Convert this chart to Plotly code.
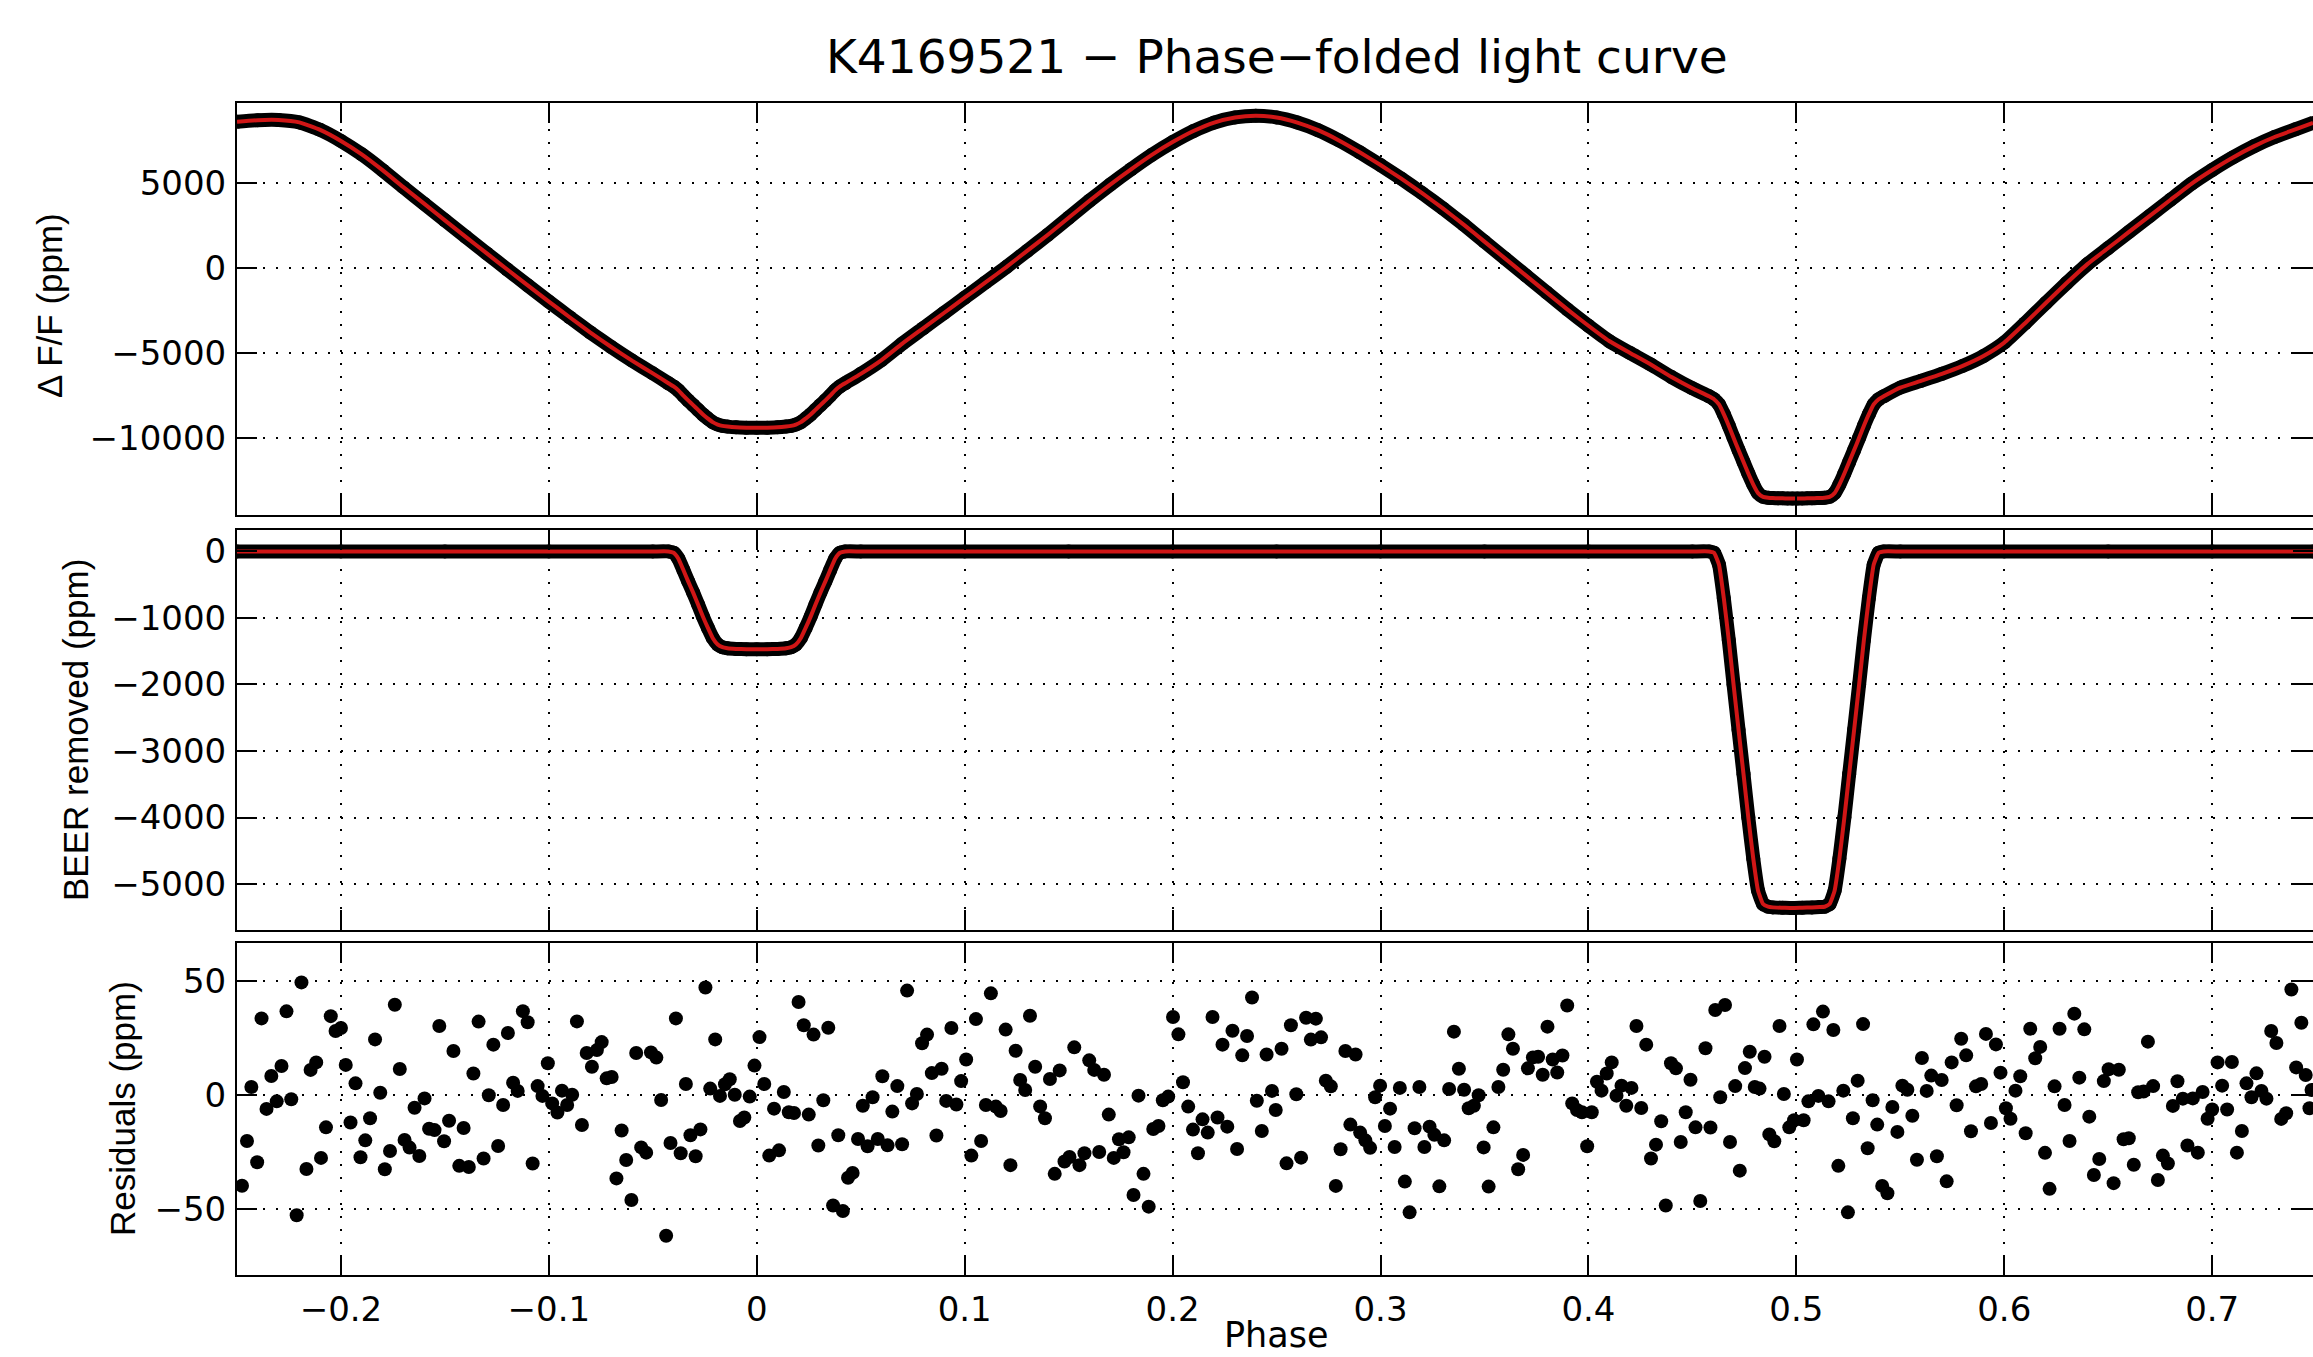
import plotly.graph_objects as go

# ---------------- data ----------------
# Top panel: phase-folded light curve (model, ppm)
top_phase = [-0.25, -0.24, -0.23, -0.22, -0.21, -0.20, -0.19, -0.18, -0.17, -0.16,
             -0.15, -0.14, -0.13, -0.12, -0.11, -0.10, -0.09, -0.08, -0.07, -0.06,
             -0.05, -0.0425, -0.0400, -0.0377, -0.0353, -0.0330, -0.0306, -0.0282,
             -0.0259, -0.0235, -0.0212, -0.0188, -0.0165, -0.0141, -0.0100, -0.0050,
             0.0000, 0.0050, 0.0100, 0.0141, 0.0165, 0.0188, 0.0212, 0.0235, 0.0259,
             0.0282, 0.0306, 0.0330, 0.0353, 0.0377, 0.0400, 0.0425,
             0.05, 0.06, 0.07, 0.08, 0.09, 0.10, 0.11, 0.12, 0.13, 0.14, 0.15, 0.16,
             0.17, 0.18, 0.19, 0.20, 0.21, 0.22, 0.23, 0.24, 0.25, 0.26, 0.27, 0.28,
             0.29, 0.30, 0.31, 0.32, 0.33, 0.34, 0.35, 0.36, 0.37, 0.38, 0.39, 0.40,
             0.41, 0.42, 0.43, 0.44, 0.45, 0.4580, 0.4604, 0.4628, 0.4651, 0.4675,
             0.4698, 0.4722, 0.4746, 0.4769, 0.4793, 0.4816, 0.4840, 0.4864, 0.4887,
             0.4911, 0.4934, 0.4958, 0.4981, 0.5005, 0.5028, 0.5052, 0.5075, 0.5099,
             0.5136, 0.5160, 0.5184, 0.5207, 0.5231, 0.5254, 0.5278, 0.5302, 0.5325,
             0.5349, 0.5372, 0.5396, 0.5420,
             0.55, 0.56, 0.57, 0.58, 0.59, 0.60, 0.61, 0.62, 0.63, 0.64, 0.65, 0.66,
             0.67, 0.68, 0.69, 0.70, 0.71, 0.72, 0.73, 0.74, 0.7485]
top_flux = [8600, 8690, 8700, 8560, 8120, 7470, 6680, 5750, 4750, 3780,
            2800, 1830, 870, -90, -1040, -1980, -2900, -3800, -4650, -5450,
            -6200, -6780, -6970, -7200, -7510, -7790, -8070, -8350,
            -8620, -8860, -9070, -9210, -9290, -9330, -9375, -9395,
            -9400, -9395, -9375, -9330, -9290, -9210, -9070, -8860, -8620,
            -8350, -8070, -7790, -7510, -7200, -6970, -6780,
            -6230, -5420, -4450, -3550, -2650, -1750, -850, 50, 1000, 1950, 2950, 3950,
            4900, 5800, 6650, 7400, 8050, 8550, 8850, 8950, 8850, 8550, 8100, 7500,
            6800, 6050, 5250, 4400, 3500, 2550, 1550, 550, -450, -1450, -2450, -3400,
            -4300, -5000, -5680, -6420, -7080, -7550, -7720, -8030, -8600, -9280,
            -9990, -10710, -11410, -12090, -12740, -13240, -13460, -13515, -13535,
            -13545, -13550, -13555, -13560, -13560, -13555, -13550, -13545, -13535,
            -13515, -13460, -13240, -12740, -12090, -11410, -10710, -9990, -9280,
            -8600, -8030, -7720, -7550,
            -7040, -6640, -6230, -5760, -5180, -4390, -3250, -2060, -890, 225, 1170, 2120,
            3060, 4010, 4950, 5760, 6500, 7150, 7700, 8150, 8530]

# Middle panel: BEER removed (ppm)
beer_phase = [-0.25, -0.20, -0.15, -0.10, -0.05, -0.0425, -0.0400, -0.0377, -0.0353,
              -0.0330, -0.0306, -0.0282, -0.0259, -0.0235, -0.0212, -0.0188, -0.0165,
              -0.0141, -0.0100, -0.0050, 0.0000, 0.0050, 0.0100, 0.0141, 0.0165,
              0.0188, 0.0212, 0.0235, 0.0259, 0.0282, 0.0306, 0.0330, 0.0353, 0.0377,
              0.0400, 0.0425, 0.05, 0.10, 0.15, 0.20, 0.25, 0.30, 0.35, 0.40, 0.45,
              0.4580, 0.4604, 0.4628, 0.4651, 0.4675, 0.4698, 0.4722, 0.4746, 0.4769,
              0.4793, 0.4816, 0.4840, 0.4864, 0.4887, 0.4934, 0.4981, 0.5028, 0.5075,
              0.5113, 0.5136, 0.5160, 0.5184, 0.5207, 0.5231, 0.5254, 0.5278, 0.5302,
              0.5325, 0.5349, 0.5372, 0.5396, 0.5420, 0.55, 0.60, 0.65, 0.70, 0.7485]
beer_flux = [0, 0, 0, 0, 0, 0, -20, -110, -280,
             -450, -620, -800, -980, -1150, -1300, -1400, -1440,
             -1455, -1465, -1470, -1470, -1470, -1465, -1455, -1440,
             -1400, -1300, -1150, -980, -800, -620, -450, -280, -110,
             -20, 0, 0, 0, 0, 0, 0, 0, 0, 0, 0,
             0, -20, -200, -700, -1330, -2000, -2680, -3350, -4000,
             -4620, -5100, -5300, -5340, -5350, -5355, -5360, -5355, -5350,
             -5345, -5340, -5300, -5100, -4620, -4000, -3350, -2680, -2000,
             -1330, -700, -200, -20, 0, 0, 0, 0, 0, 0]

# Bottom panel: residuals (ppm)
res_phase = [
    -0.2476, -0.2452, -0.2431, -0.2403, -0.2382, -0.2358, -0.2335, -0.2309, -0.2286, -0.2262,
    -0.2239, -0.2213, -0.2190, -0.2166, -0.2146, -0.2119, -0.2096, -0.2072, -0.2049, -0.2026,
    -0.2000, -0.1977, -0.1954, -0.1930, -0.1906, -0.1883, -0.1860, -0.1836, -0.1811, -0.1789,
    -0.1764, -0.1741, -0.1717, -0.1694, -0.1670, -0.1646, -0.1623, -0.1598, -0.1576, -0.1550,
    -0.1527, -0.1504, -0.1480, -0.1459, -0.1431, -0.1410, -0.1385, -0.1363, -0.1338, -0.1314,
    -0.1289, -0.1267, -0.1244, -0.1220, -0.1197, -0.1172, -0.1150, -0.1125, -0.1102, -0.1078,
    -0.1054, -0.1031, -0.1005, -0.0984, -0.0959, -0.0937, -0.0912, -0.0888, -0.0865, -0.0841,
    -0.0818, -0.0793, -0.0769, -0.0746, -0.0722, -0.0698, -0.0675, -0.0650, -0.0628, -0.0603,
    -0.0580, -0.0556, -0.0532, -0.0509, -0.0483, -0.0460, -0.0436, -0.0415, -0.0389, -0.0366,
    -0.0341, -0.0319, -0.0294, -0.0271, -0.0247, -0.0224, -0.0200, -0.0177, -0.0153, -0.0130,
    -0.0106, -0.0081, -0.0060, -0.0034, -0.0011,
    0.0013, 0.0036, 0.0060, 0.0083, 0.0107, 0.0130, 0.0154, 0.0179, 0.0201, 0.0226,
    0.0250, 0.0273, 0.0296, 0.0320, 0.0344, 0.0367, 0.0392, 0.0414, 0.0439, 0.0461,
    0.0487, 0.0510, 0.0533, 0.0557, 0.0582, 0.0604, 0.0629, 0.0652, 0.0676, 0.0699,
    0.0723, 0.0747, 0.0770, 0.0795, 0.0819, 0.0842, 0.0864, 0.0889, 0.0911, 0.0936,
    0.0960, 0.0983, 0.1007, 0.1032, 0.1054, 0.1079, 0.1102, 0.1126, 0.1150, 0.1173,
    0.1197, 0.1220, 0.1245, 0.1267, 0.1291, 0.1314, 0.1339, 0.1363, 0.1386, 0.1410,
    0.1433, 0.1457, 0.1480, 0.1504, 0.1527, 0.1552, 0.1576, 0.1599, 0.1623, 0.1647,
    0.1670, 0.1693, 0.1717, 0.1742, 0.1764, 0.1789, 0.1812, 0.1836, 0.1860, 0.1885,
    0.1907, 0.1932, 0.1953, 0.1979, 0.2002, 0.2028, 0.2050, 0.2075, 0.2098, 0.2122,
    0.2144, 0.2169, 0.2192, 0.2216, 0.2240, 0.2263, 0.2288, 0.2310, 0.2335, 0.2358,
    0.2382, 0.2405, 0.2429, 0.2452, 0.2478, 0.2496,
    0.2524, 0.2548, 0.2569, 0.2595, 0.2618, 0.2642, 0.2665, 0.2689, 0.2714, 0.2737,
    0.2761, 0.2785, 0.2808, 0.2831, 0.2855, 0.2880, 0.2902, 0.2927, 0.2950, 0.2974,
    0.2998, 0.3021, 0.3046, 0.3068, 0.3093, 0.3117, 0.3140, 0.3164, 0.3187, 0.3211,
    0.3236, 0.3259, 0.3283, 0.3306, 0.3330, 0.3353, 0.3377, 0.3402, 0.3424, 0.3449,
    0.3472, 0.3496, 0.3520, 0.3543, 0.3567, 0.3590, 0.3615, 0.3637, 0.3662, 0.3686,
    0.3709, 0.3733, 0.3758, 0.3780, 0.3803, 0.3828, 0.3850, 0.3875, 0.3898, 0.3922,
    0.3945, 0.3969, 0.3994, 0.4016, 0.4041, 0.4063, 0.4088, 0.4112, 0.4135, 0.4159,
    0.4182, 0.4207, 0.4231, 0.4254, 0.4278, 0.4301, 0.4325, 0.4350, 0.4372, 0.4397,
    0.4421, 0.4444, 0.4468, 0.4491, 0.4515, 0.4538, 0.4563, 0.4587, 0.4610, 0.4634,
    0.4657, 0.4681, 0.4706, 0.4728, 0.4753, 0.4776, 0.4800, 0.4823, 0.4847, 0.4870,
    0.4894, 0.4919, 0.4940, 0.4966, 0.4989, 0.5003,
    0.5035, 0.5058, 0.5082, 0.5106, 0.5128, 0.5155, 0.5178, 0.5202, 0.5226, 0.5248,
    0.5272, 0.5295, 0.5321, 0.5343, 0.5367, 0.5389, 0.5413, 0.5438, 0.5462, 0.5486,
    0.5510, 0.5534, 0.5558, 0.5580, 0.5604, 0.5627, 0.5649, 0.5676, 0.5699, 0.5723,
    0.5747, 0.5771, 0.5793, 0.5817, 0.5840, 0.5864, 0.5889, 0.5912, 0.5936, 0.5960,
    0.5982, 0.6008, 0.6030, 0.6054, 0.6077, 0.6103, 0.6125, 0.6149, 0.6173, 0.6196,
    0.6218, 0.6242, 0.6266, 0.6290, 0.6314, 0.6337, 0.6361, 0.6385, 0.6409, 0.6431,
    0.6457, 0.6479, 0.6502, 0.6526, 0.6551, 0.6574, 0.6599, 0.6623, 0.6644, 0.6670,
    0.6691, 0.6716, 0.6739, 0.6763, 0.6787, 0.6811, 0.6833, 0.6859, 0.6881, 0.6907,
    0.6931, 0.6954, 0.6978, 0.7000, 0.7026, 0.7048, 0.7072, 0.7095, 0.7119, 0.7143,
    0.7165, 0.7189, 0.7213, 0.7237, 0.7261, 0.7284, 0.7309, 0.7332, 0.7356, 0.7381,
    0.7404, 0.7429, 0.7450, 0.7468, 0.7478]
res_ppm = [
    -39.8, -20.2, 3.5, -29.5, 33.6, -6.1, 8.3, -2.8, 12.7, 36.7,
    -1.9, -52.8, 49.4, -32.5, 11.0, 14.3, -27.6, -14.2, 34.6, 28.1,
    29.4, 13.2, -12.1, 5.1, -27.3, -19.9, -10.2, 24.4, 1.0, -32.6,
    -24.6, 39.6, 11.4, -19.7, -23.1, -5.6, -26.8, -1.5, -14.8, -15.4,
    30.3, -20.3, -11.3, 19.3, -31.1, -14.5, -31.6, 9.4, 32.2, -27.9,
    -0.1, 22.1, -22.4, -4.4, 27.2, 5.4, 1.8, 36.8, 31.9, -30.1,
    3.9, -0.4, 13.9, -3.7, -7.7, 1.9, -4.4, 0.1, 32.3, -13.2,
    18.4, 12.4, 19.7, 23.2, 7.3, 7.9, -36.6, -15.6, -28.5, -46.1,
    18.4, -23.0, -25.3, 18.7, 16.4, -2.2, -61.8, -21.1, 33.6, -25.6,
    4.8, -17.7, -26.9, -15.1, 47.2, 2.8, 24.4, -0.4, 4.7, 6.9,
    0.1, -11.4, -9.9, -0.7, 12.9,
    25.4, 4.8, -26.6, -6.0, -24.3, 1.3, -7.6, -7.9, 40.8, 30.6,
    -8.6, 26.5, -22.2, -2.3, 29.5, -48.5, -17.7, -50.9, -36.3, -34.2,
    -19.3, -4.7, -22.5, -1.0, -19.3, 8.2, -22.1, -7.3, 3.9, -21.6,
    45.8, -3.7, 0.4, 22.7, 26.5, 9.6, -17.8, 11.5, -2.6, 29.4,
    -4.2, 6.1, 15.6, -26.6, 33.3, -20.2, -4.4, 44.6, -5.1, -7.0,
    28.7, -30.8, 19.4, 6.6, 2.2, 34.8, 12.4, -5.0, -10.2, 7.0,
    -34.6, 10.8, -29.2, -27.2, 20.9, -30.8, -25.6, 15.2, 11.0, -25.0,
    8.9, -8.6, -27.6, -19.4, -25.1, -18.6, -43.9, -0.3, -34.6, -49.0,
    -14.9, -13.6, -2.3, -0.7, 34.2, 26.6, 5.6, -5.1, -15.2, -25.6,
    -10.7, -16.5, 34.2, -9.9, 22.1, -13.9, 28.2, -23.7, 17.4, 25.9,
    42.8, -2.5, -15.8, 17.8, 1.8, -6.6,
    20.3, -30.0, 30.6, 0.3, -27.5, 33.9, 24.3, 33.5, 25.3, 6.3,
    3.8, -39.9, -23.8, 19.3, -13.0, 17.8, -16.5, -19.9, -23.2, -1.0,
    4.1, -13.6, -6.0, -22.8, 3.1, -38.0, -51.5, -14.6, 3.5, -22.8,
    -13.9, -17.5, -40.1, -19.9, 2.6, 27.8, 11.5, 2.3, -5.8, -4.7,
    -0.1, -23.0, -40.2, -14.2, 3.5, 11.1, 26.6, 20.3, -32.6, -26.3,
    11.7, 16.5, 16.8, 8.9, 30.0, 15.6, 9.9, 17.3, 39.3, -3.7,
    -6.6, -7.6, -22.5, -7.6, 5.8, 1.9, 9.4, 14.3, -0.3, 4.1,
    -4.7, 3.1, 30.3, -5.7, 22.1, -27.9, -21.8, -11.5, -48.5, 13.9,
    11.7, -20.6, -7.6, 6.7, -14.2, -46.5, 20.5, -14.3, 37.3, -1.0,
    39.5, -20.6, 3.9, -33.2, 11.8, 19.0, 3.5, 2.8, 16.8, -17.3,
    -20.3, 30.3, 0.4, -14.2, -11.1, 15.6,
    -11.1, -2.8, 31.0, -0.4, 36.6, -2.8, 28.5, -31.1, 1.9, -51.5,
    -10.2, 6.3, 31.1, -23.4, -2.3, -13.0, -39.9, -43.1, -5.3, -16.2,
    4.1, 2.3, -9.1, -28.4, 16.2, 1.8, 8.5, -26.9, 6.6, -37.9,
    14.3, -4.5, 24.7, 17.4, -15.9, 3.8, 4.8, 26.8, -12.3, 22.2,
    9.8, -5.8, -10.4, 1.9, 8.2, -16.8, 29.1, 16.1, 21.1, -25.4,
    -41.2, 3.8, 29.1, -4.4, -20.2, 35.7, 7.6, 28.8, -9.5, -35.1,
    -28.1, 6.1, 11.3, -38.7, 11.1, -19.4, -19.0, -30.6, 1.2, 1.5,
    23.4, 3.9, -37.3, -26.6, -30.1, -4.8, 6.0, -1.6, -22.2, -1.5,
    -25.3, 1.3, -10.4, -6.4, 14.3, 4.1, -6.4, 14.5, -25.3, -15.8,
    5.1, -1.0, 9.5, 1.8, -1.6, 28.1, 22.8, -10.5, -8.0, 46.3,
    12.1, 31.7, 8.8, -5.8, 2.2]

x_tickvals = [-0.2, -0.1, 0, 0.1, 0.2, 0.3, 0.4, 0.5, 0.6, 0.7]
x_ticktext = ["\u22120.2", "\u22120.1", "0", "0.1", "0.2", "0.3", "0.4", "0.5", "0.6", "0.7"]
top_ytickvals = [-10000, -5000, 0, 5000]
top_yticktext = ["\u221210000", "\u22125000", "0", "5000"]
mid_ytickvals = [-5000, -4000, -3000, -2000, -1000, 0]
mid_yticktext = ["\u22125000", "\u22124000", "\u22123000", "\u22122000", "\u22121000", "0"]
bot_ytickvals = [-50, 0, 50]
bot_yticktext = ["\u221250", "0", "50"]

title_text = "K4169521 \u2212 Phase\u2212folded light curve"
xlabel = "Phase"
ylabels = ["\u0394 F/F (ppm)", "BEER removed (ppm)", "Residuals (ppm)"]

# ---------------- figure ----------------
W, H = 2313, 1357
L = 237
PW = W - L
RED = "rgb(208,22,22)"
TICKFONT = dict(family="DejaVu Sans", size=34, color="black")


def px_x(px):
    return (px - L) / PW


def px_y(py):
    return 1 - py / H


fig = go.Figure()

# top panel
fig.add_trace(go.Scatter(x=top_phase, y=top_flux, mode="lines+markers",
                         line=dict(color="black", width=14, shape="spline", smoothing=0.5),
                         marker=dict(color="black", size=14), xaxis="x", yaxis="y",
                         showlegend=False, hoverinfo="skip"))
fig.add_trace(go.Scatter(x=top_phase, y=top_flux, mode="lines",
                         line=dict(color=RED, width=4, shape="spline", smoothing=0.5),
                         xaxis="x", yaxis="y", showlegend=False, hoverinfo="skip"))
# middle panel
fig.add_trace(go.Scatter(x=beer_phase, y=beer_flux, mode="lines+markers",
                         line=dict(color="black", width=14, shape="spline", smoothing=0.4),
                         marker=dict(color="black", size=14), xaxis="x2", yaxis="y2",
                         showlegend=False, hoverinfo="skip"))
fig.add_trace(go.Scatter(x=beer_phase, y=beer_flux, mode="lines",
                         line=dict(color=RED, width=4, shape="spline", smoothing=0.4),
                         xaxis="x2", yaxis="y2", showlegend=False, hoverinfo="skip"))
# bottom panel
fig.add_trace(go.Scatter(x=res_phase, y=res_ppm, mode="markers",
                         marker=dict(color="black", size=14), xaxis="x3", yaxis="y3",
                         showlegend=False, hoverinfo="skip"))

common_axis = dict(showline=True, linecolor="black", linewidth=2, mirror="ticks",
                   ticks="inside", ticklen=20, tickwidth=1.6, tickcolor="black",
                   showgrid=True, gridcolor="black", gridwidth=1.6, griddash="2px,11px",
                   zeroline=False, tickfont=TICKFONT)

xr = [-0.25, 0.7485]
xcommon = dict(common_axis, range=xr, tickmode="array", tickvals=x_tickvals,
               ticktext=x_ticktext, domain=[0, 1], automargin=False)

doms = [[px_y(515), px_y(103)], [px_y(930), px_y(530)], [px_y(1275), px_y(943)]]

fig.update_layout(
    width=W, height=H,
    margin=dict(l=L, r=0, t=0, b=0),
    paper_bgcolor="white", plot_bgcolor="white",
    showlegend=False,
    xaxis=dict(xcommon, anchor="y", showticklabels=False),
    xaxis2=dict(xcommon, anchor="y2", showticklabels=False),
    xaxis3=dict(xcommon, anchor="y3", showticklabels=True, ticklabelstandoff=3),
    yaxis=dict(common_axis, domain=doms[0], range=[-14530, 9700], anchor="x",
               tickmode="array", tickvals=top_ytickvals, ticktext=top_yticktext,
               automargin=False, ticklabelstandoff=2),
    yaxis2=dict(common_axis, domain=doms[1], range=[-5690, 322], anchor="x2",
                tickmode="array", tickvals=mid_ytickvals, ticktext=mid_yticktext,
                automargin=False, ticklabelstandoff=2),
    yaxis3=dict(common_axis, domain=doms[2], range=[-79, 66.7], anchor="x3",
                tickmode="array", tickvals=bot_ytickvals, ticktext=bot_yticktext,
                automargin=False, ticklabelstandoff=2),
)

ann = [
    dict(text=title_text, x=px_x(1277), y=px_y(57), xref="paper", yref="paper",
         xanchor="center", yanchor="middle", showarrow=False,
         font=dict(family="DejaVu Sans", size=47, color="black")),
    dict(text=xlabel, x=px_x(1276), y=0.0, xref="paper", yref="paper",
         xanchor="center", yanchor="bottom", showarrow=False,
         font=dict(family="DejaVu Sans", size=35, color="black")),
    dict(text=ylabels[0], x=px_x(49), y=px_y(306), xref="paper", yref="paper",
         xanchor="center", yanchor="middle", textangle=-90, showarrow=False,
         font=dict(family="Liberation Sans", size=35, color="black")),
    dict(text=ylabels[1], x=px_x(75), y=px_y(730), xref="paper", yref="paper",
         xanchor="center", yanchor="middle", textangle=-90, showarrow=False,
         font=dict(family="Liberation Sans", size=35, color="black")),
    dict(text=ylabels[2], x=px_x(122), y=px_y(1109), xref="paper", yref="paper",
         xanchor="center", yanchor="middle", textangle=-90, showarrow=False,
         font=dict(family="Liberation Sans", size=35, color="black")),
]
fig.update_layout(annotations=ann)

fig.write_html("out.html", config={"displayModeBar": False})
